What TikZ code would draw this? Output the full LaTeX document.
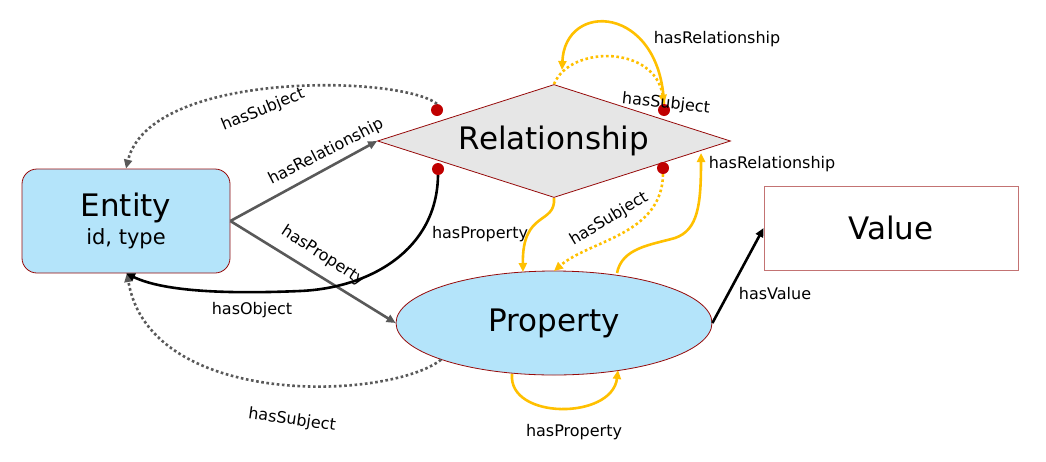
\documentclass[tikz,border=0pt]{standalone}
\usepackage{fontspec}
\setmainfont{DejaVu Sans}
\usetikzlibrary{arrows.meta,shapes.geometric}
\definecolor{lblue}{RGB}{180,228,250}
\definecolor{dred}{RGB}{150,10,10}
\definecolor{dotred}{RGB}{192,0,0}
\definecolor{vborder}{RGB}{195,115,115}
\definecolor{rgray}{RGB}{230,230,230}
\definecolor{agray}{RGB}{89,89,89}
\definecolor{ayel}{RGB}{255,192,0}
\tikzset{
  tip/.style={-{Triangle[length=9pt,width=8pt]}},
  grayline/.style={tip,draw=agray,fill=none,line width=2.6pt},
  grayarc/.style={grayline,dash pattern=on 2.6pt off 2.6pt},
  blackline/.style={tip,draw=black,line width=2.6pt},
  yline/.style={tip,draw=ayel,line width=2.6pt},
  yarc/.style={yline,dash pattern=on 2.6pt off 2.6pt},
  lbl/.style={font=\fontsize{16}{18}\selectfont,text=black,inner sep=0pt},
  big/.style={font=\fontsize{31}{34}\selectfont},
  reddot/.style={circle,fill=dotred,minimum size=12pt,inner sep=0pt},
}
\begin{document}
\begin{tikzpicture}[x=1pt,y=-1pt]
\useasboundingbox (0,0) rectangle (1046,461);
% nodes
\node[draw=dred,fill=lblue,rounded corners=15pt,minimum width=208pt,minimum height=104pt,align=center,inner sep=0pt,line width=0.8pt]
  (entity) at (126,221) {\fontsize{31}{34}\selectfont Entity\\[5pt]\fontsize{21}{24}\selectfont id, type};
\node[draw=dred,fill=rgray,diamond,shape aspect=3.12,minimum width=353pt,minimum height=113pt,inner sep=0pt,big,line width=0.8pt]
  (rel) at (554,141) {Relationship};
\node[draw=dred,fill=lblue,ellipse,minimum width=316pt,minimum height=104pt,inner sep=0pt,big,line width=0.8pt]
  (prop) at (554,323) {Property};
\node[draw=vborder,fill=white,minimum width=254pt,minimum height=84pt,inner sep=0pt,big,line width=0.8pt]
  (val) at (891,228) {Value};
% dots
\node[reddot] (d1) at (437,110) {};
\node[reddot] (d2) at (438,169) {};
\node[reddot] (d3) at (664,110) {};
\node[reddot] (d4) at (663,168) {};
% helper coordinates
\coordinate (ytoptip) at (562,70);
\coordinate (entbot) at (127,273);
\coordinate (relbr) at (701,153);
\coordinate (pA) at (523,272);
\coordinate (pB) at (554,271);
\coordinate (pC) at (617,273);
\coordinate (pD) at (512,374);
\coordinate (pE) at (618,370);
% gray / black connectors
\draw[grayline] (entity.east) -- (rel.west);
\draw[grayline] (entity.east) -- (prop.west);
\draw[grayarc] (d1.north) .. controls (400,75) and (150,70) .. (entity.north);
\draw[grayarc] (prop.198) .. controls (390,400) and (150,410) .. (entbot);
\draw[blackline] (d2.south) .. controls (437,250) and (370,288) .. (300,291) .. controls (230,294) and (165,292) .. (entity.south);
\draw[blackline] (prop.east) -- (val.west);
% yellow connectors
\draw[yline] (d3.north) .. controls (660,5) and (565,0) .. (ytoptip);
\draw[yarc] (rel.north) .. controls (570,45) and (655,45) .. (d3.north);
\draw[yarc] (d4.south) .. controls (662,235) and (590,240) .. (pB);
\draw[yline] (rel.south) .. controls (556,225) and (522,210) .. (pA);
\draw[yline] (pC) .. controls (622,248) and (650,245) .. (675,238) .. controls (698,230) and (701,205) .. (relbr);
\draw[yline] (pD) .. controls (508,420) and (612,420) .. (pE);
% labels
\node[lbl,rotate=22] (l1) at (263,110) {hasSubject};
\node[lbl,rotate=27] (l2) at (326,152) {hasRelationship};
\node[lbl,rotate=-33] (l3) at (323,256) {hasProperty};
\node[lbl] (l4) at (252,310) {hasObject};
\node[lbl,rotate=-8] (l5) at (292,420) {hasSubject};
\node[lbl] (l6) at (717,39) {hasRelationship};
\node[lbl,rotate=-6] (l7) at (666,104) {hasSubject};
\node[lbl] (l8) at (772,164) {hasRelationship};
\node[lbl,rotate=31] (l9) at (609,219) {hasSubject};
\node[lbl] (l10) at (480,234) {hasProperty};
\node[lbl] (l11) at (775,294) {hasValue};
\node[lbl] (l12) at (574,432) {hasProperty};
\end{tikzpicture}
\end{document}
